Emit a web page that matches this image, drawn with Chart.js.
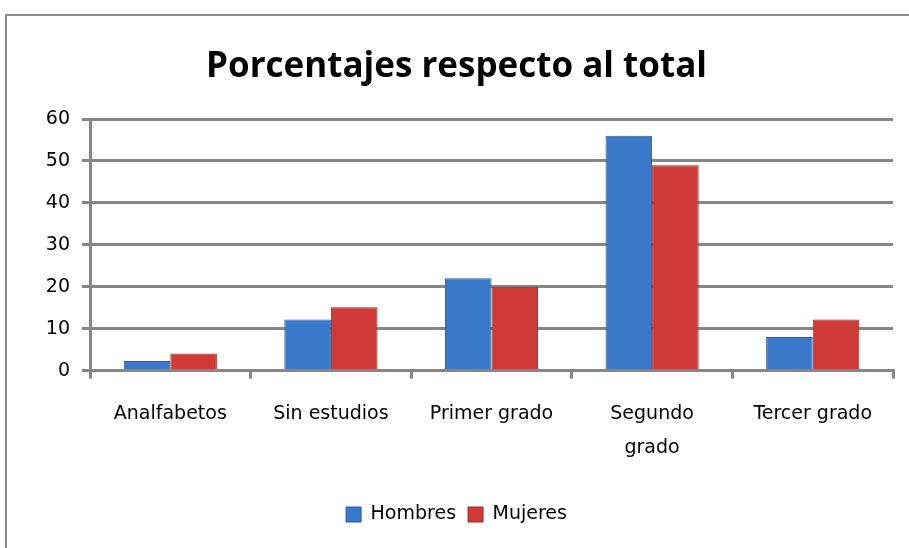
<!DOCTYPE html>
<html>
<head>
<meta charset="utf-8">
<script src="https://cdn.jsdelivr.net/npm/chart.js@4.4.1/dist/chart.umd.min.js"></script>
<style>
  html, body { margin: 0; padding: 0; background: #fff; }
  #wrap { position: relative; width: 909px; height: 548px; }
  #frame { position: absolute; left: 5px; top: 14px; right: -10px; bottom: -10px;
           border-left: 2px solid #8c8c8c; border-top: 2px solid #8c8c8c; }
  canvas { position: absolute; left: 0; top: 0; }
</style>
</head>
<body>
<div id="wrap">
  <div id="frame"></div>
  <canvas id="grafico" width="909" height="548"></canvas>
</div>
<script>
// datos
const categorias = ['Analfabetos', 'Sin estudios', 'Primer grado', ['Segundo', 'grado'], 'Tercer grado'];
const hombres = [2.3, 12.2, 22, 56, 8];
const mujeres = [4.1, 15.1, 20, 49, 12.2];
const ticksY = [0, 10, 20, 30, 40, 50, 60];

const fuenteTitulo = "'Open Sans', sans-serif";
const fuente = "'DejaVu Sans', sans-serif";

// degradado horizontal para el efecto "brillo" de las barras
function degradado(ctx, base, oscuro, claro) {
  const el = ctx.element;
  const chart = ctx.chart;
  if (!el || !chart.chartArea || el.width === undefined) return base;
  const x0 = el.x - el.width / 2;
  const g = chart.ctx.createLinearGradient(x0, 0, x0 + el.width, 0);
  g.addColorStop(0, oscuro);
  g.addColorStop(0.12, base);
  g.addColorStop(0.5, claro);
  g.addColorStop(0.88, base);
  g.addColorStop(1, oscuro);
  return g;
}

const ctx = document.getElementById('grafico');
new Chart(ctx, {
  type: 'bar',
  data: {
    labels: categorias,
    datasets: [
      {
        label: 'Hombres',
        data: hombres,
        backgroundColor: c => degradado(c, '#3a78c9', '#24508f', '#4a8ad8'),
        borderColor: '#2a5a9c',
        borderWidth: 1
      },
      {
        label: 'Mujeres',
        data: mujeres,
        backgroundColor: c => degradado(c, '#cf3a37', '#8f2321', '#d94a46'),
        borderColor: '#9a2a28',
        borderWidth: 1
      }
    ]
  },
  options: {
    responsive: false,
    animation: false,
    layout: { padding: { left: 20, right: 16, top: 0, bottom: 14 } },
    categoryPercentage: 0.58,
    barPercentage: 1.0,
    plugins: {
      title: {
        display: true,
        text: 'Porcentajes respecto al total',
        color: '#000',
        font: { family: fuenteTitulo, size: 35, weight: 'bold', lineHeight: 1.2 },
        padding: { top: 46, bottom: 31 }
      },
      legend: {
        position: 'bottom',
        labels: {
          color: '#000',
          font: { family: fuente, size: 19 },
          boxWidth: 15,
          boxHeight: 15,
          padding: 12,
          generateLabels: chart => chart.data.datasets.map((d, i) => ({
            text: d.label,
            fillStyle: i === 0 ? '#3a78c9' : '#cf3a37',
            strokeStyle: i === 0 ? '#2a5a9c' : '#9a2a28',
            lineWidth: 1,
            datasetIndex: i,
            fontColor: '#000'
          }))
        }
      },
      tooltip: { enabled: false }
    },
    scales: {
      x: {
        afterFit: s => { s.height += 10; },
        grid: {
          offset: true,
          drawOnChartArea: false,
          color: '#868686',
          lineWidth: 3,
          tickLength: 8
        },
        border: { color: '#868686', width: 3 },
        ticks: {
          color: '#000',
          font: { family: fuente, size: 19, lineHeight: 1.8 },
          padding: 18,
          maxRotation: 0,
          autoSkip: false
        }
      },
      y: {
        min: 0,
        max: 60,
        afterBuildTicks: s => { s.ticks = ticksY.map(v => ({ value: v })); },
        afterFit: s => { s.width = 70; },
        grid: { color: '#868686', lineWidth: 3, tickLength: 8 },
        border: { color: '#868686', width: 3 },
        ticks: {
          color: '#000',
          font: { family: fuente, size: 19 },
          padding: 12
        }
      }
    }
  }
});
</script>
</body>
</html>
